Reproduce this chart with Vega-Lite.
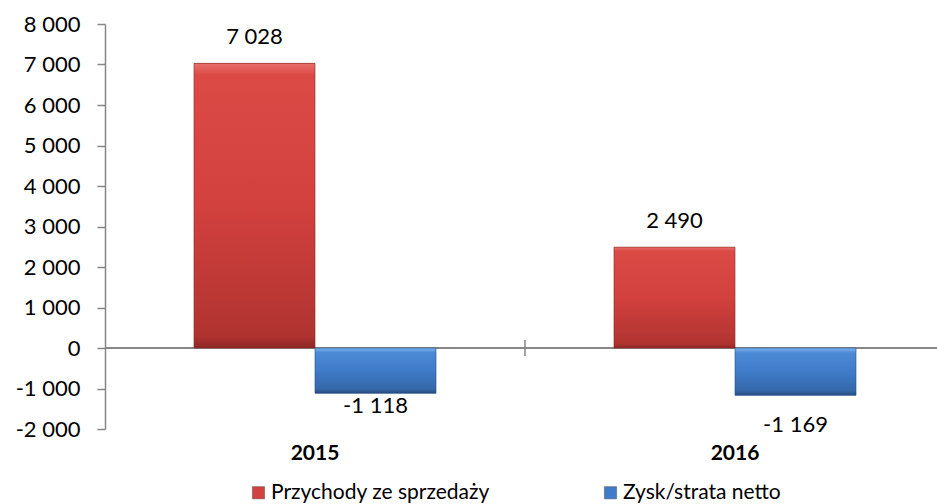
{
  "$schema": "https://vega.github.io/schema/vega-lite/v6.json",
  "width": 840,
  "height": 405,
  "padding": {"left": 105, "top": 24, "right": 0, "bottom": 75},
  "autosize": {"type": "none"},
  "background": "white",
  "config": {
    "font": "Lato",
    "view": {"stroke": null},
    "locale": {"number": {"decimal": ",", "thousands": " ", "grouping": [3], "currency": ["", " zł"], "minus": "-"}}
  },
  "data": {
    "values": [
      {"year": "2015", "series": "Przychody ze sprzedaży", "value": 7028},
      {"year": "2015", "series": "Zysk/strata netto", "value": -1118},
      {"year": "2016", "series": "Przychody ze sprzedaży", "value": 2490},
      {"year": "2016", "series": "Zysk/strata netto", "value": -1169}
    ]
  },
  "encoding": {
    "x": {
      "field": "year", "type": "nominal",
      "scale": {"paddingInner": 0, "paddingOuter": 0},
      "axis": {"title": null, "orient": "bottom", "domain": false, "ticks": false, "labelAngle": 0, "labelFontSize": 21, "labelFontWeight": "bold", "labelColor": "#000000", "labelPadding": 13, "labelBaseline": "top"}
    }
  },
  "layer": [
    {
      "mark": {"type": "rule", "color": "#868686", "strokeWidth": 1.5},
      "encoding": {
        "x": null,
        "y": {
          "datum": 0, "type": "quantitative",
          "scale": {"domain": [-2000, 8000], "nice": false, "zero": false},
          "axis": {"title": null, "values": [-2000, -1000, 0, 1000, 2000, 3000, 4000, 5000, 6000, 7000, 8000], "format": ",d", "grid": false, "domainColor": "#868686", "domainWidth": 1.5, "tickColor": "#868686", "tickWidth": 1.5, "tickSize": 8, "labelFontSize": 22, "labelColor": "#000000", "labelPadding": 17}
        }
      }
    },
    {
      "transform": [{"filter": "datum.year == '2016' && datum.value > 0"}],
      "mark": {"type": "rule", "color": "#868686", "strokeWidth": 1.5},
      "encoding": {
        "x": {"field": "year", "type": "nominal", "bandPosition": 0},
        "y": {"datum": -200, "type": "quantitative"},
        "y2": {"datum": 200}
      }
    },
    {
      "mark": {"type": "bar"},
      "encoding": {
        "xOffset": {"field": "series", "type": "nominal", "scale": {"paddingInner": 0, "paddingOuter": 0.7355}},
        "y": {"field": "value", "type": "quantitative"},
        "color": {
          "field": "series", "type": "nominal",
          "scale": {"domain": ["Przychody ze sprzedaży", "Zysk/strata netto"], "range": ["#d2413e", "#3f7bc8"]},
          "legend": {"title": null, "orient": "none", "legendX": 143, "legendY": 458, "direction": "horizontal", "columns": 2, "columnPadding": 110, "symbolType": "square", "symbolSize": 150, "symbolStrokeColor": "#555555", "symbolStrokeWidth": 0.5, "labelFontSize": 21, "labelColor": "#000000", "labelOffset": 2, "padding": 0, "labelLimit": 400}
        }
      }
    },
    {
      "transform": [{"filter": "datum.series == 'Przychody ze sprzedaży'"}],
      "mark": {"type": "bar", "stroke": "#8c2624", "strokeWidth": 1, "strokeOpacity": 0.6, "fill": {"gradient": "linear", "x1": 0, "y1": 0, "x2": 0, "y2": 1, "stops": [
        {"offset": 0, "color": "#e8706c"}, {"offset": 0.04, "color": "#dc4a46"}, {"offset": 0.5, "color": "#d2413e"}, {"offset": 0.96, "color": "#b03330"}, {"offset": 1, "color": "#8c2624"}]}},
      "encoding": {
        "xOffset": {"field": "series", "type": "nominal"},
        "y": {"field": "value", "type": "quantitative"}
      }
    },
    {
      "transform": [{"filter": "datum.series == 'Zysk/strata netto'"}],
      "mark": {"type": "bar", "stroke": "#264d80", "strokeWidth": 1, "strokeOpacity": 0.6, "fill": {"gradient": "linear", "x1": 0, "y1": 0, "x2": 0, "y2": 1, "stops": [
        {"offset": 0, "color": "#7db5f0"}, {"offset": 0.1, "color": "#4d8ad6"}, {"offset": 0.5, "color": "#3f7bc8"}, {"offset": 0.9, "color": "#3568aa"}, {"offset": 1, "color": "#264d80"}]}},
      "encoding": {
        "xOffset": {"field": "series", "type": "nominal"},
        "y": {"field": "value", "type": "quantitative"}
      }
    },
    {
      "transform": [{"filter": "datum.value > 0"}],
      "mark": {"type": "text", "fontSize": 22, "color": "#000000", "baseline": "middle", "dy": -26},
      "encoding": {
        "xOffset": {"field": "series", "type": "nominal"},
        "y": {"field": "value", "type": "quantitative"},
        "text": {"field": "value", "type": "quantitative", "format": ",d"}
      }
    },
    {
      "transform": [{"filter": "datum.value < 0 && datum.year == '2015'"}],
      "mark": {"type": "text", "fontSize": 22, "color": "#000000", "baseline": "middle", "dy": 13},
      "encoding": {
        "xOffset": {"field": "series", "type": "nominal"},
        "y": {"field": "value", "type": "quantitative"},
        "text": {"field": "value", "type": "quantitative", "format": ",d"}
      }
    },
    {
      "transform": [{"filter": "datum.value < 0 && datum.year == '2016'"}],
      "mark": {"type": "text", "fontSize": 22, "color": "#000000", "baseline": "middle", "dy": 30},
      "encoding": {
        "xOffset": {"field": "series", "type": "nominal"},
        "y": {"field": "value", "type": "quantitative"},
        "text": {"field": "value", "type": "quantitative", "format": ",d"}
      }
    }
  ]
}
